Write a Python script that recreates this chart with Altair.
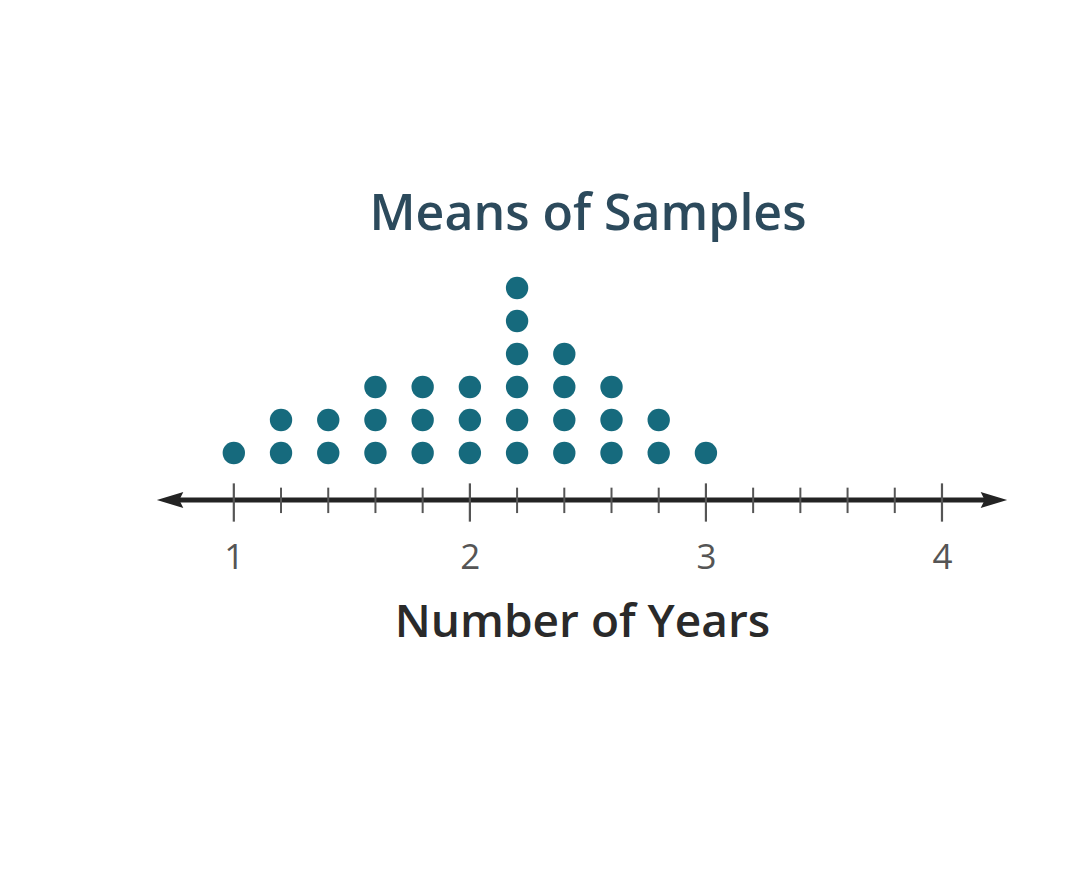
import altair as alt
import pandas as pd

# Data
means = [1.0, 1.2, 1.4, 1.6, 1.8, 2.0, 2.2, 2.4, 2.6, 2.8, 3.0]
counts = [1, 2, 2, 3, 3, 3, 6, 4, 3, 2, 1]
major_ticks = [1, 2, 3, 4]
minor_ticks = [1.2, 1.4, 1.6, 1.8, 2.2, 2.4, 2.6, 2.8, 3.2, 3.4, 3.6, 3.8]

X_MIN, X_MAX = 0.7, 4.25
Y_MIN, Y_MAX = -0.4242, 6.8485

dots = pd.DataFrame(
    [{"x": m, "k": k} for m, c in zip(means, counts) for k in range(1, c + 1)]
)
majors = pd.DataFrame({"x": major_ticks, "y1": -1.08, "y2": 0.08})
minors = pd.DataFrame({"x": minor_ticks, "y1": -0.82, "y2": -0.05})
axis_line = pd.DataFrame({"x1": [0.74], "x2": [4.21], "y": [Y_MIN]})
arrows = pd.DataFrame({"x": [0.73, 4.22], "y": [Y_MIN, Y_MIN], "side": ["L", "R"]})

W, H = 838, 240
xs = alt.Scale(domain=[X_MIN, X_MAX], nice=False, zero=False)
ys = alt.Scale(domain=[Y_MIN, Y_MAX], nice=False, zero=False)

x_axis = alt.Axis(
    values=major_ticks, format="d", domain=False, ticks=False, grid=False,
    labelFontSize=35, labelColor="#555555", labelFont="Open Sans",
    labelPadding=40, labelBaseline="top",
    title="Number of Years", titleFontSize=46, titleFont="Open Sans",
    titleFontWeight=600, titleColor="#2a2a2a", titlePadding=25,
)

base_points = alt.Chart(dots).mark_circle(size=500, opacity=1, color="#166a7d").encode(
    x=alt.X("x:Q", scale=xs, axis=x_axis),
    y=alt.Y("k:Q", scale=ys, axis=None),
)

line = alt.Chart(axis_line).mark_rule(strokeWidth=5, color="#232323").encode(
    x=alt.X("x1:Q", scale=xs), x2="x2:Q", y=alt.Y("y:Q", scale=ys)
)
maj = alt.Chart(majors).mark_rule(strokeWidth=2.2, color="#555555").encode(
    x=alt.X("x:Q", scale=xs), y=alt.Y("y1:Q", scale=ys), y2="y2:Q"
)
mino = alt.Chart(minors).mark_rule(strokeWidth=2, color="#555555").encode(
    x=alt.X("x:Q", scale=xs), y=alt.Y("y1:Q", scale=ys), y2="y2:Q"
)
arrow_l = alt.Chart(arrows[arrows.side == "L"]).mark_point(
    shape="M -1 0 L 1 -0.6 L 0.7 0 L 1 0.6 Z", size=700, filled=True, opacity=1, color="#232323"
).encode(x=alt.X("x:Q", scale=xs), y=alt.Y("y:Q", scale=ys))
arrow_r = alt.Chart(arrows[arrows.side == "R"]).mark_point(
    shape="M 1 0 L -1 -0.6 L -0.7 0 L -1 0.6 Z", size=700, filled=True, opacity=1, color="#232323"
).encode(x=alt.X("x:Q", scale=xs), y=alt.Y("y:Q", scale=ys))

chart = alt.layer(base_points, line, mino, maj, arrow_l, arrow_r).properties(
    width=W, height=H,
    title=alt.TitleParams(
        "Means of Samples", fontSize=50, font="Open Sans", fontWeight=600,
        color="#2c4a5c", baseline="bottom", offset=18, anchor="middle", dx=6, dy=48,
    ),
    autosize=alt.AutoSizeParams(type="none"),
    padding={"left": 155, "top": 252, "right": 71, "bottom": 353},
    background="white",
).configure_view(strokeWidth=0, stroke="transparent")

chart.save("out.html", embed_options={"renderer": "svg", "actions": False})
